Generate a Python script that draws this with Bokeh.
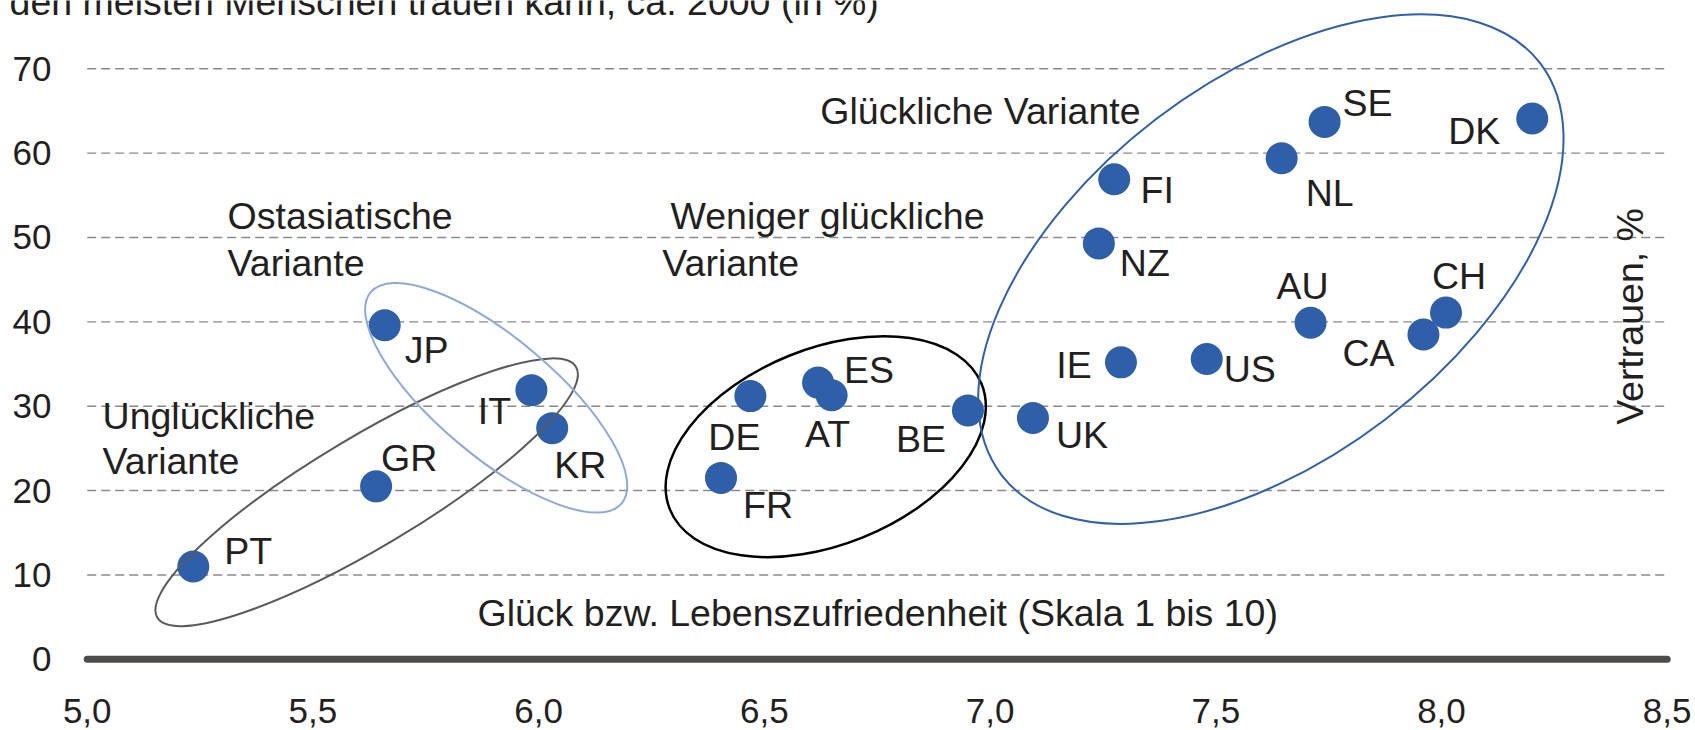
import math
from bokeh.plotting import figure
from bokeh.models import ColumnDataSource, FixedTicker, CustomJSTickFormatter, Label
from bokeh.core.properties import value
from bokeh.embed import file_html
from bokeh.resources import INLINE

# ---------------- data ----------------
countries = ["PT", "GR", "JP", "IT", "KR", "DE", "FR", "ES", "AT", "BE", "UK",
             "IE", "FI", "NZ", "US", "AU", "NL", "SE", "DK", "CH", "CA"]
happiness = [5.235, 5.640, 5.659, 5.984, 6.030, 6.469, 6.404, 6.619, 6.649, 6.951, 7.095,
             7.290, 7.275, 7.241, 7.480, 7.710, 7.646, 7.741, 8.201, 8.010, 7.960]
trust = [11.0, 20.5, 39.6, 31.9, 27.4, 31.2, 21.5, 32.8, 31.3, 29.5, 28.6,
         35.2, 56.9, 49.3, 35.6, 39.9, 59.4, 63.7, 64.1, 41.1, 38.5]

x_ticks = [5.0, 5.5, 6.0, 6.5, 7.0, 7.5, 8.0, 8.5]
y_ticks = [0, 10, 20, 30, 40, 50, 60, 70]

title_text = "den meisten Menschen trauen kann, ca. 2000 (in %)"
x_title = "Glück bzw. Lebenszufriedenheit (Skala 1 bis 10)"
y_title = "Vertrauen, %"

# cluster groups (centre in data units)
group_names = ["Unglückliche Variante", "Ostasiatische Variante",
               "Weniger glückliche Variante", "Glückliche Variante"]
group_cx = [5.619, 5.906, 6.636, 7.622]
group_cy = [19.8, 31.0, 25.2, 46.25]

# group caption lines (text, left x, y in data units)
caption_lines = ["Unglückliche", "Variante", "Ostasiatische", "Variante",
                 "Weniger glückliche", "Variante", "Glückliche Variante"]
caption_x = [5.034, 5.034, 5.311, 5.311, 6.292, 6.274, 6.624]
caption_y = [28.85, 23.5, 52.49, 46.92, 52.49, 46.92, 64.97]

# ---------------- styles ----------------
FONT = "Liberation Sans"
TXT = "#231f20"
DOT = "#2f5fa8"
TSIZE = "37.5px"

# label offsets in px (dx, dy: screen, down positive), per country
label_dx = [55, 33, 42, -37, 28, -16, 47, 51, -4, -47, 49,
            -47, 43, 46, 43, -8, 48, 43, -58, 13, -55]
label_dy = [-15.7, -28.4, 24.7, 21, 37, 40.7, 27.3, -12.3, 38.3, 28.7, 16.9,
            2.4, 11, 19.6, 9.7, -36.9, 34.4, -18.9, 12.4, -36.8, 18.6]

ell_w = [488, 328, 336, 678]
ell_h = [110, 118, 196, 378]
ell_angle = [30.9, -40.1, 21.9, 37.4]
ell_color = ["#5a5a5a", "#8eaadb", "#000000", "#2f5fae"]
ell_lw = [2, 2, 2.5, 2]

p = figure(width=1695, height=730,
           x_range=(4.80793, 8.50953), y_range=(-3.937, 78.094),
           output_backend="svg", toolbar_location=None,
           min_border_left=0, min_border_right=24,
           min_border_top=0, min_border_bottom=38)
p.outline_line_color = None
p.background_fill_color = "white"
p.border_fill_color = "white"
p.xgrid.visible = False
p.ygrid.visible = False

# axes
for ax in (p.xaxis[0], p.yaxis[0]):
    ax.axis_line_color = None
    ax.major_tick_line_color = None
    ax.minor_tick_line_color = None
    ax.major_label_text_font = FONT
    ax.major_label_text_font_size = "35px"
    ax.major_label_text_color = TXT
p.xaxis[0].ticker = FixedTicker(ticks=x_ticks)
p.xaxis[0].formatter = CustomJSTickFormatter(code="return tick.toFixed(1).replace('.', ',');")
p.xaxis[0].major_label_standoff = 0
p.yaxis[0].ticker = FixedTicker(ticks=y_ticks)
p.yaxis[0].major_label_standoff = -57

# dashed horizontal gridlines spanning the x scale (5,0 .. 8,5)
gy = y_ticks[1:]
p.segment(x0=[x_ticks[0]] * len(gy), y0=gy, x1=[x_ticks[-1]] * len(gy), y1=gy,
          line_color="#8a8a8a", line_width=1.4, line_dash="9 5")

# zero baseline
p.segment(x0=[x_ticks[0]], y0=[0], x1=[x_ticks[-1]], y1=[0],
          line_color="#4e4b4b", line_width=7, line_cap="round")

# points
src = ColumnDataSource(dict(x=happiness, y=trust, code=countries,
                            dx=label_dx, dy=label_dy))
p.scatter("x", "y", source=src, marker="circle", size=32,
          fill_color=DOT, line_color=None)

# ellipses
esrc = ColumnDataSource(dict(x=group_cx, y=group_cy, w=ell_w, h=ell_h,
                             a=[math.radians(v) for v in ell_angle],
                             c=ell_color, lw=ell_lw))
p.ellipse("x", "y", width="w", height="h", angle="a", source=esrc,
          width_units="screen", height_units="screen",
          fill_color=None, line_color="c", line_width="lw")

# country labels
p.text("x", "y", text="code", source=src, x_offset="dx", y_offset="dy",
       text_font=value(FONT), text_font_size=TSIZE, text_color=TXT,
       text_align="center", text_baseline="alphabetic")

# captions
for t, cx, cy in zip(caption_lines, caption_x, caption_y):
    p.add_layout(Label(x=cx, y=cy, text=t, text_font=FONT, text_font_size=TSIZE,
                       text_color=TXT, text_align="left", text_baseline="alphabetic"))

p.add_layout(Label(x=5.8646, y=5.45, text=x_title, text_font=FONT, text_font_size=TSIZE,
                   text_color=TXT, text_align="left", text_baseline="alphabetic"))
p.add_layout(Label(x=8.417, y=40.64, text=y_title, angle=math.pi / 2,
                   text_font=FONT, text_font_size=TSIZE, text_color=TXT,
                   text_align="center", text_baseline="alphabetic"))
p.add_layout(Label(x=4.828, y=77.88, text=title_text, text_font=FONT, text_font_size=TSIZE,
                   text_color=TXT, text_align="left", text_baseline="alphabetic"))

open("out.html", "w").write(file_html(p, INLINE))
